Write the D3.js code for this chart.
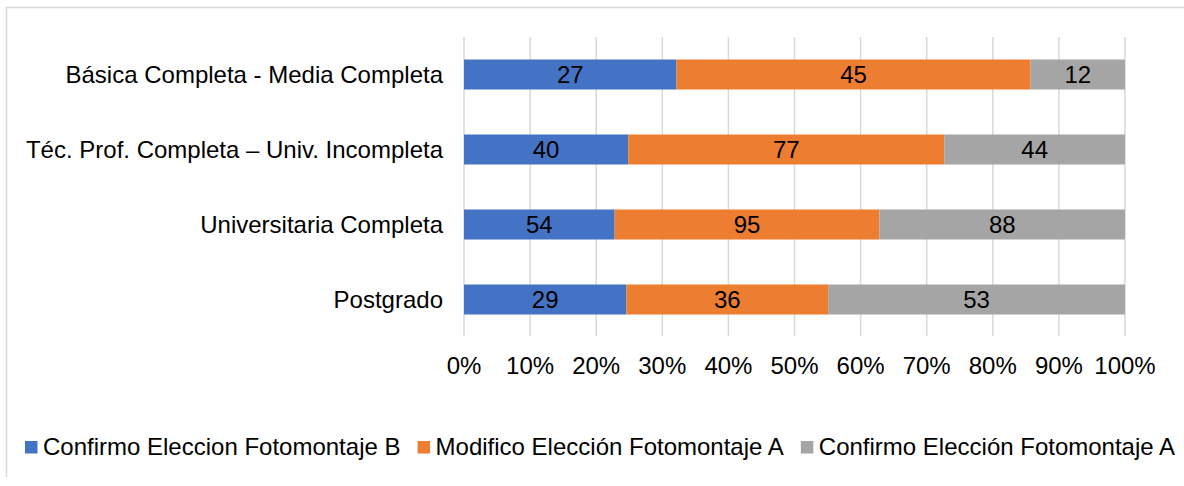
<!DOCTYPE html>
<html>
<head>
<meta charset="utf-8">
<script src="https://cdn.jsdelivr.net/npm/d3@7"></script>
<style>
  html, body { margin: 0; padding: 0; background: #fff; }
  svg text { font-family: "Liberation Sans", Arial, sans-serif; fill: #000; }
</style>
</head>
<body>
<svg id="chart" width="1184" height="486"></svg>
<script>
// Education levels, top to bottom
const categories = [
  "Básica Completa - Media Completa",
  "Téc. Prof. Completa – Univ. Incompleta",
  "Universitaria Completa",
  "Postgrado"
];
const seriesNames = [
  "Confirmo Eleccion Fotomontaje B",
  "Modifico Elección Fotomontaje A",
  "Confirmo Elección Fotomontaje A"
];
// Counts per category, one array per series
const confirmoB = [27, 40, 54, 29];
const modificoA = [45, 77, 95, 36];
const confirmoA = [12, 44, 88, 53];
const tickValues = [0, 0.1, 0.2, 0.3, 0.4, 0.5, 0.6, 0.7, 0.8, 0.9, 1.0];
const colors = ["#4472C4", "#ED7D31", "#A5A5A5"];
const FONT = "24px";

const svg = d3.select("#chart");

// Outer frame (left and top edges)
svg.append("path")
  .attr("d", "M6.5,477 L6.5,7.5 L1184,7.5")
  .attr("fill", "none")
  .attr("stroke", "#d9d9d9")
  .attr("stroke-width", 1.5);

const x = d3.scaleLinear().domain([0, 1]).range([464, 1125]);
const y = d3.scaleBand().domain(categories).range([37, 337]).paddingInner(0.6).paddingOuter(0.3);

// Vertical gridlines
svg.append("g").selectAll("line")
  .data(tickValues)
  .join("line")
  .attr("x1", d => x(d)).attr("x2", d => x(d))
  .attr("y1", 37).attr("y2", 336)
  .attr("stroke", "#d9d9d9")
  .attr("stroke-width", 1.5);

// Build stacked proportions
const rows = categories.map((c, i) => {
  const vals = [confirmoB[i], modificoA[i], confirmoA[i]];
  const total = d3.sum(vals);
  let acc = 0;
  return vals.map((v, k) => {
    const seg = { cat: c, k, v, x0: acc / total, x1: (acc + v) / total };
    acc += v;
    return seg;
  });
}).flat();

const segs = svg.append("g").selectAll("g")
  .data(rows)
  .join("g");

segs.append("rect")
  .attr("x", d => x(d.x0))
  .attr("width", d => x(d.x1) - x(d.x0))
  .attr("y", d => y(d.cat))
  .attr("height", y.bandwidth())
  .attr("fill", d => colors[d.k]);

segs.append("text")
  .attr("x", d => (x(d.x0) + x(d.x1)) / 2)
  .attr("y", d => y(d.cat) + y.bandwidth() / 2)
  .attr("dy", "0.35em")
  .attr("text-anchor", "middle")
  .style("font-size", FONT)
  .text(d => d.v);

// Category labels
svg.append("g").selectAll("text")
  .data(categories)
  .join("text")
  .attr("x", 443)
  .attr("y", d => y(d) + y.bandwidth() / 2)
  .attr("dy", "0.35em")
  .attr("text-anchor", "end")
  .style("font-size", FONT)
  .text(d => d);

// Percentage axis
const fmt = d3.format(".0%");
svg.append("g").selectAll("text")
  .data(tickValues)
  .join("text")
  .attr("x", d => x(d))
  .attr("y", 366)
  .attr("dy", "0.35em")
  .attr("text-anchor", "middle")
  .style("font-size", FONT)
  .text(d => fmt(d));

// Legend
const legend = svg.append("g");
const items = legend.selectAll("g")
  .data(seriesNames)
  .join("g");
items.append("rect")
  .attr("width", 12.5).attr("height", 12.5)
  .attr("y", 441)
  .attr("fill", (d, i) => colors[i]);
items.append("text")
  .attr("x", 18)
  .attr("y", 447)
  .attr("dy", "0.35em")
  .style("font-size", FONT)
  .text(d => d);

const widths = [];
items.each(function() { widths.push(18 + this.querySelector("text").getComputedTextLength()); });
const left = 25, right = 1175;
const gap = Math.max(6, (right - left - d3.sum(widths)) / (widths.length - 1));
let cx = (left + right) / 2 - (d3.sum(widths) + gap * (widths.length - 1)) / 2;
items.attr("transform", (d, i) => {
  const t = `translate(${cx},0)`;
  cx += widths[i] + gap;
  return t;
});
</script>
</body>
</html>
